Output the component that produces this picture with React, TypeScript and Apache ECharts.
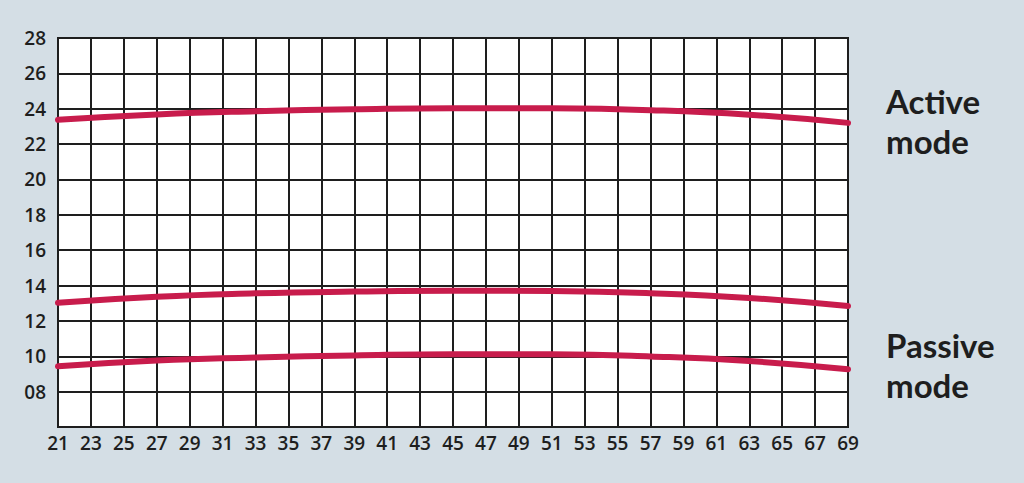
import { useEffect, useRef } from "react";
import * as echarts from "echarts";

// x tick labels (ages 21..69, every 2)
const xLabels = [
  "21", "23", "25", "27", "29", "31", "33", "35", "37", "39", "41", "43", "45",
  "47", "49", "51", "53", "55", "57", "59", "61", "63", "65", "67", "69",
];

// sample points
const sampleX = ["21", "27", "33", "39", "45", "51", "57", "63", "69"];
const activeMode = [23.38, 23.68, 23.86, 23.97, 24.03, 24.02, 23.92, 23.66, 23.2];
const middleCurve = [13.03, 13.37, 13.56, 13.66, 13.71, 13.69, 13.57, 13.3, 12.84];
const passiveMode = [9.43, 9.76, 9.93, 10.05, 10.12, 10.11, 9.99, 9.73, 9.27];

// right-hand labels, one entry per line
const sideLabels = ["Active", "mode", "Passive", "mode"];
const sideLabelY = [101, 141, 345, 385];

const LINE_COLOR = "#c81c4c";
const INK = "#1e1e1e";
const FONT = "'Open Sans', sans-serif";

const pairs = (vals: number[]) => sampleX.map((x, i) => [x, vals[i]]);

export default function App() {
  const ref = useRef<HTMLDivElement>(null);

  useEffect(() => {
    document.body.style.margin = "0";
    if (!ref.current) return;
    const chart = echarts.init(ref.current, null, { renderer: "svg" });

    const curve = (name: string, vals: number[]) => ({
      name,
      type: "line",
      data: pairs(vals),
      smooth: 0.5,
      symbol: "none",
      lineStyle: { color: LINE_COLOR, width: 6, cap: "round" },
      z: 5,
    });

    chart.setOption({
      animation: false,
      backgroundColor: "#d4dee5",
      grid: {
        left: 58,
        right: 176,
        top: 38,
        bottom: 56,
        show: true,
        backgroundColor: "#ffffff",
        borderColor: INK,
        borderWidth: 2,
      },
      xAxis: {
        type: "category",
        data: xLabels,
        boundaryGap: false,
        axisLine: { lineStyle: { color: INK, width: 2 } },
        axisTick: { show: false },
        axisLabel: {
          color: INK,
          fontFamily: FONT,
          fontWeight: 600,
          fontSize: 19,
          margin: 6,
          interval: 0,
        },
        splitLine: { show: true, lineStyle: { color: INK, width: 2 } },
      },
      yAxis: {
        type: "value",
        min: 6,
        max: 28,
        interval: 2,
        axisLine: { show: false },
        axisTick: { show: false },
        axisLabel: {
          color: INK,
          fontFamily: FONT,
          fontWeight: 600,
          fontSize: 19,
          margin: 12,
          showMinLabel: false,
          formatter: (v: number) => String(v).padStart(2, "0"),
        },
        splitLine: { lineStyle: { color: INK, width: 2 } },
      },
      graphic: sideLabels.map((t, i) => ({
        type: "text",
        x: 886,
        y: sideLabelY[i],
        style: {
          text: t,
          fill: INK,
          font: `bold 33px Lato, sans-serif`,
          lineHeight: 38,
          textVerticalAlign: "middle",
        },
      })),
      series: [
        curve("Active mode", activeMode),
        curve("Middle", middleCurve),
        curve("Passive mode", passiveMode),
      ],
    });

    return () => chart.dispose();
  }, []);

  return <div ref={ref} style={{ width: 1024, height: 483 }} />;
}
